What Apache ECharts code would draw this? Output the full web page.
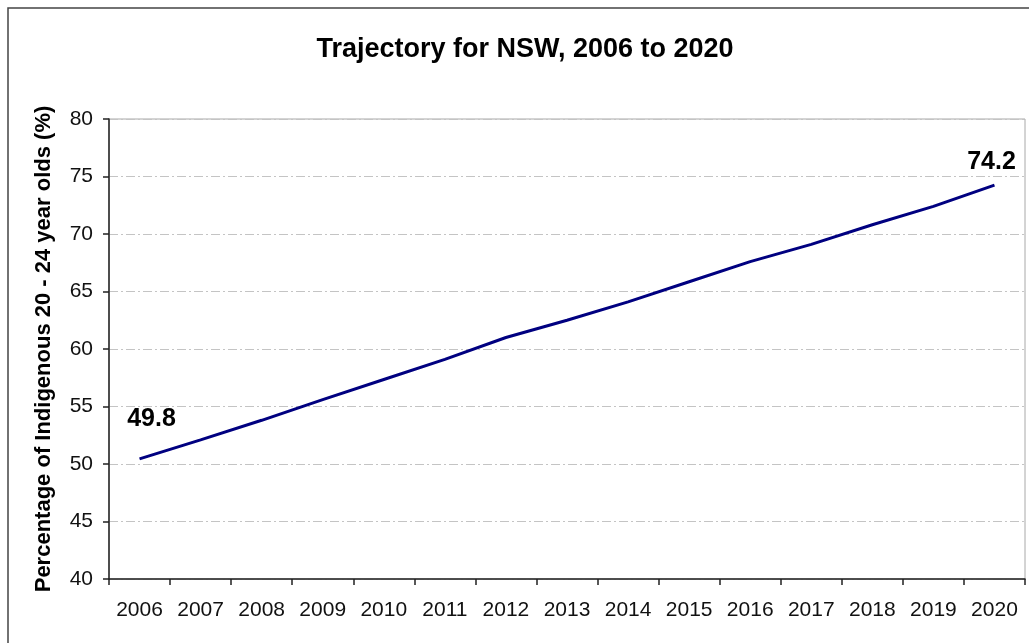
<!DOCTYPE html>
<html>
<head>
<meta charset="utf-8">
<script src="https://cdn.jsdelivr.net/npm/echarts@6/dist/echarts.min.js"></script>
<style>
html,body{margin:0;padding:0;background:#fff;}
#chart{width:1029px;height:643px;}
</style>
</head>
<body>
<div id="chart"></div>
<script>
var titleText = 'Trajectory for NSW, 2006 to 2020';
var yAxisName = 'Percentage of Indigenous 20 - 24 year olds (%)';
var categories = ['2006','2007','2008','2009','2010','2011','2012','2013','2014','2015','2016','2017','2018','2019','2020'];
var values = [50.45, 52.1, 53.8, 55.6, 57.35, 59.1, 61.0, 62.5, 64.1, 65.85, 67.6, 69.1, 70.8, 72.4, 74.25];
var firstLabel = '49.8';
var lastLabel = '74.2';
var yMin = 40, yMax = 80, yStep = 5;

var font = '"Liberation Sans", Arial, sans-serif';
var data = values.map(function (v, i) {
  var item = { value: v };
  if (i === 0) {
    item.label = { show: true, formatter: firstLabel, position: 'top', offset: [12, -22] };
  } else if (i === values.length - 1) {
    item.label = { show: true, formatter: lastLabel, position: 'top', offset: [-3, -6] };
  }
  return item;
});

var chart = echarts.init(document.getElementById('chart'));
chart.setOption({
  animation: false,
  backgroundColor: '#fff',
  textStyle: { fontFamily: font },
  graphic: [
    { type: 'rect', shape: { x: 8, y: 8, width: 1100, height: 700 },
      style: { fill: 'none', stroke: '#444', lineWidth: 1.5 }, z: -1 },
    { type: 'text', x: 525, y: 50,
      style: { text: titleText, fontFamily: font, fontSize: 27, fontWeight: 'bold',
               fill: '#000', textAlign: 'center', textVerticalAlign: 'middle' } }
  ],
  grid: { left: 109, right: 4, top: 119, bottom: 64, show: true,
          borderColor: '#a8a8a8', borderWidth: 1, backgroundColor: 'transparent' },
  xAxis: {
    type: 'category', data: categories, boundaryGap: true,
    axisLine: { lineStyle: { color: '#222', width: 1.5 } },
    axisTick: { show: true, inside: false, length: 6, alignWithLabel: false, lineStyle: { color: '#222', width: 1.5 } },
    axisLabel: { color: '#111', fontSize: 21, fontFamily: font, margin: 21, interval: 0 },
    splitLine: { show: false }
  },
  yAxis: {
    type: 'value', min: yMin, max: yMax, interval: yStep,
    name: yAxisName, nameLocation: 'middle', nameGap: 54, nameRotate: 90,
    nameTextStyle: { fontSize: 22, fontWeight: 'bold', color: '#000', fontFamily: font, padding: [0, 0, 0, 0] },
    axisLine: { show: true, lineStyle: { color: '#222', width: 1.5 } },
    axisTick: { show: true, inside: false, length: 6, lineStyle: { color: '#222', width: 1.5 } },
    axisLabel: { color: '#111', fontSize: 21, fontFamily: font, margin: 16 },
    splitLine: { show: true, lineStyle: { color: '#c4c4c4', width: 1, type: [9, 3, 2, 3] } }
  },
  series: [{
    type: 'line', data: data, showSymbol: true, symbol: 'circle', symbolSize: 0,
    lineStyle: { color: '#000080', width: 3 },
    label: { fontSize: 25, fontWeight: 'bold', color: '#000', fontFamily: font },
    itemStyle: { color: '#000080' }
  }]
});
</script>
</body>
</html>
